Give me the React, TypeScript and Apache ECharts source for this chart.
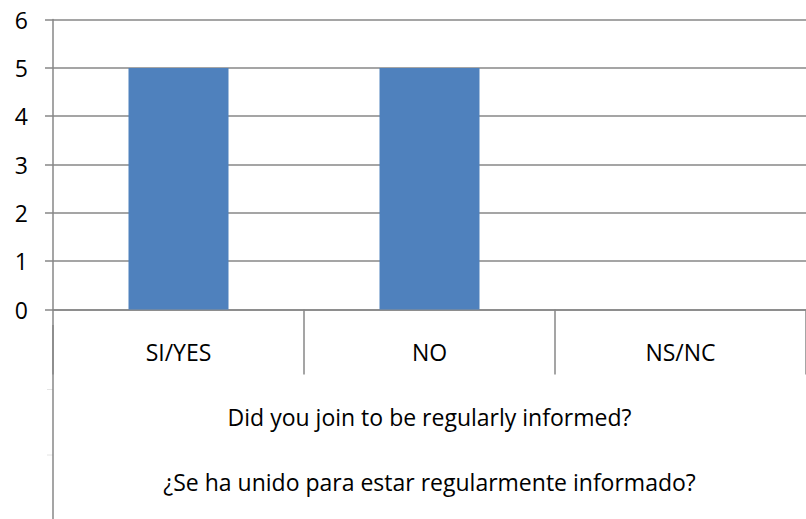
import React, { useEffect, useRef } from "react";
import * as echarts from "echarts";

const categories = ["SI/YES", "NO", "NS/NC"];
const values = [5, 5, 0];
const yTicks = [0, 1, 2, 3, 4, 5, 6];
const axisTitleLines = [
  "Did you join to be regularly informed?",
  "¿Se ha unido para estar regularmente informado?",
];

const FONT = "'Open Sans', sans-serif";
const FS = 23;
const GRAY = "#878787";

export default function App() {
  const ref = useRef<HTMLDivElement>(null);
  useEffect(() => {
    document.body.style.margin = "0";
    if (!ref.current) return;
    const chart = echarts.init(ref.current, undefined, { renderer: "svg" });
    chart.setOption({
      animation: false,
      backgroundColor: "#ffffff",
      grid: { left: 53, right: 0, top: 19.6, bottom: 194, containLabel: false },
      xAxis: {
        type: "category",
        data: categories,
        boundaryGap: true,
        axisLine: { show: true, lineStyle: { color: GRAY, width: 1.5 } },
        axisTick: { show: true, length: 65, lineStyle: { color: GRAY, width: 1.5 } },
        axisLabel: {
          margin: 42,
          fontSize: FS,
          color: "#000",
          fontFamily: FONT,
          verticalAlign: "middle",
        },
        name: axisTitleLines.join("\n"),
        nameLocation: "middle",
        nameGap: 139.5,
        nameTextStyle: {
          fontSize: FS,
          color: "#000",
          fontFamily: FONT,
          lineHeight: 65,
          align: "center",
          verticalAlign: "middle",
        },
      },
      yAxis: {
        type: "value",
        min: yTicks[0],
        max: yTicks[yTicks.length - 1],
        interval: 1,
        axisLine: { show: true, lineStyle: { color: GRAY, width: 1.5 } },
        axisTick: { show: true, length: 8, lineStyle: { color: GRAY, width: 1.5 } },
        axisLabel: { margin: 25, fontSize: FS, color: "#000", fontFamily: FONT },
        splitLine: { show: true, lineStyle: { color: GRAY, width: 1.5 } },
      },
      graphic: [
        {
          type: "line",
          shape: { x1: 53, y1: 325, x2: 53, y2: 519 },
          style: { stroke: GRAY, lineWidth: 1.5 },
          z: 10,
        },
        {
          type: "line",
          shape: { x1: 47, y1: 389.5, x2: 53, y2: 389.5 },
          style: { stroke: "#e4e4e4", lineWidth: 1 },
        },
        {
          type: "line",
          shape: { x1: 47, y1: 455, x2: 53, y2: 455 },
          style: { stroke: "#e4e4e4", lineWidth: 1 },
        },
      ],
      series: [
        {
          type: "bar",
          data: values,
          barWidth: 100,
          itemStyle: { color: "#4f81bd" },
        },
      ],
    });
    return () => chart.dispose();
  }, []);
  return <div ref={ref} style={{ width: 806, height: 519 }} />;
}
